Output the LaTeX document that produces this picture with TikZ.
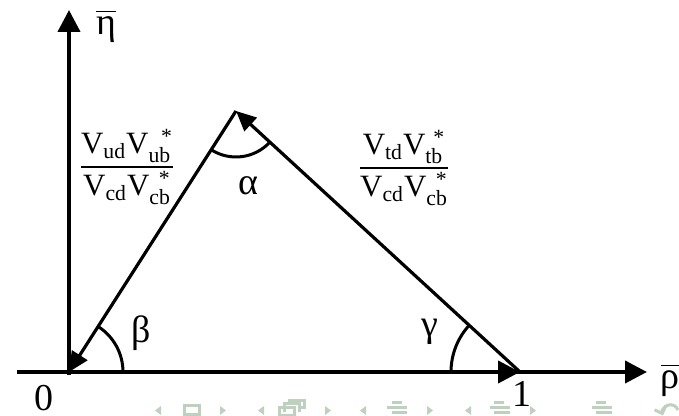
\documentclass[tikz,border=0pt]{standalone}
\usepackage{amsmath}
\usepackage{fontspec}
\setmainfont{Liberation Serif}
\usepackage{tikz}
\usetikzlibrary{arrows.meta}
\definecolor{navgreen}{RGB}{190,208,190}

\begin{document}
\begin{tikzpicture}[x=0.5pt,y=0.5pt,
  axis/.style={line width=2pt,-{Triangle[length=11pt,width=11pt]}},
  side/.style={line width=1.6pt,-{Triangle[length=10pt,width=9pt]}},
  angarc/.style={line width=1.5pt},
  lbl/.style={font=\fontsize{19}{21}\selectfont, inner sep=0pt},
  ratio/.style={font=\fontsize{15.5}{17}\selectfont, inner sep=0pt},
  navsym/.style={fill=navgreen, draw=none},
  navline/.style={draw=navgreen, line width=1.5pt}]
  \useasboundingbox (0,0) rectangle (679,416);

  \coordinate (O) at (69,44);
  \coordinate (P) at (520,44);
  \coordinate (A) at (236,305);
  \coordinate (xstart) at (17,44);
  \coordinate (xend) at (647,44);
  \coordinate (ystart) at (69,41);
  \coordinate (yend) at (69,406);

  % Axes
  \draw[axis] (xstart) -- (xend);
  \draw[axis] (ystart) -- (yend);
  \node[lbl] (etabar) at (106,390) {$\overline{\text{η}}$};
  \node[lbl] (rhobar) at (670,36) {$\overline{\text{ρ}}$};
  \node[lbl] (zero) at (44,18) {0};
  \node[lbl] (one) at (522,22) {1};

  % Triangle sides
  \draw[axis] (O) -- (P);
  \draw[side] (P) -- (A);
  \draw[side] (A) -- (O);

  % Angles
  \draw[angarc] (O) ++(0:54) arc[start angle=0,end angle=57.4,radius=54];
  \draw[angarc] (P) ++(137.4:69) arc[start angle=137.4,end angle=180,radius=69];
  \draw[angarc] (A) ++(237.4:46) arc[start angle=237.4,end angle=317.4,radius=46];
  \node[lbl] (beta) at (141,83) {β};
  \node[lbl] (gamma) at (430,84) {γ};
  \node[lbl] (alpha) at (248,230) {α};

  % Side ratios
  \node[ratio] (leftratio) at (127,249)
    {$\displaystyle\frac{\mathrm{V_{ud}V_{ub}^{\hphantom{u}\text{*}}}}{\mathrm{V_{cd}V_{cb}^{\hphantom{c}\text{*}}}}$};
  \node[ratio] (rightratio) at (404,248)
    {$\displaystyle\frac{\mathrm{V_{td}V_{tb}^{\hphantom{t}\text{*}}}}{\mathrm{V_{cd}V_{cb}^{\hphantom{c}\text{*}}}}$};

  % Navigation symbols
  \fill[navsym] (161,10) -- (155,5.5) -- (161,1) -- cycle;
  \draw[navline] (184,1) rectangle (199,10);
  \fill[navsym] (220,10) -- (226,5.5) -- (220,1) -- cycle;
  \fill[navsym] (264,10) -- (258,5.5) -- (264,1) -- cycle;
  \draw[navline] (279,0) rectangle (294,8);
  \draw[navline] (284,4) -- (284,12) -- (299,12) -- (299,4);
  \draw[navline] (289,12) -- (289,15) -- (304,15) -- (304,8) -- (299,8);
  \fill[navsym] (325,10) -- (331,5.5) -- (325,1) -- cycle;
  \fill[navsym] (366,10) -- (360,5.5) -- (366,1) -- cycle;
  \fill[navsym] (392,12) rectangle (402,15);
  \fill[navsym] (387,7) rectangle (407,10);
  \fill[navsym] (392,2) rectangle (407,5);
  \fill[navsym] (427,10) -- (433,5.5) -- (427,1) -- cycle;
  \fill[navsym] (471,10) -- (465,5.5) -- (471,1) -- cycle;
  \fill[navsym] (494,12) rectangle (504,15);
  \fill[navsym] (490,7) rectangle (510,10);
  \fill[navsym] (494,2) rectangle (510,5);
  \fill[navsym] (530,10) -- (536,5.5) -- (530,1) -- cycle;
  \fill[navsym] (596,12) rectangle (606,15);
  \fill[navsym] (592,7) rectangle (612,10);
  \fill[navsym] (596,2) rectangle (612,5);
  \draw[navline,-{Straight Barb[length=3pt]}] (678,6) arc[start angle=20,end angle=200,radius=8];
\end{tikzpicture}
\end{document}
